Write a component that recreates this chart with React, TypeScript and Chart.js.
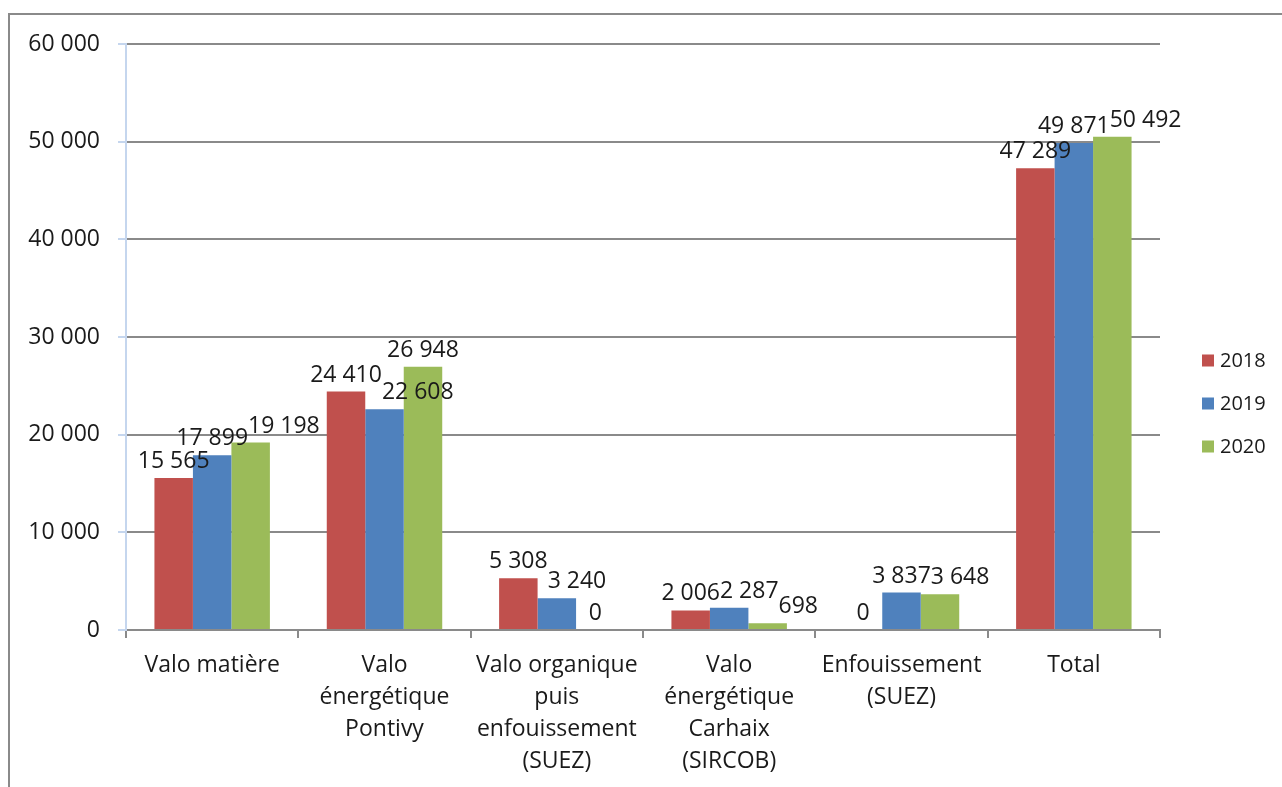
import React, { useEffect, useRef } from "react";
import { Chart, registerables } from "chart.js";

Chart.register(...registerables);

const categories: (string | string[])[] = [
  "Valo matière",
  ["Valo", "énergétique", "Pontivy"],
  ["Valo organique", "puis", "enfouissement", "(SUEZ)"],
  ["Valo", "énergétique", "Carhaix", "(SIRCOB)"],
  ["Enfouissement", "(SUEZ)"],
  "Total",
];
const seriesNames = ["2018", "2019", "2020"];
const values2018 = [15565, 24410, 5308, 2006, 0, 47289];
const values2019 = [17899, 22608, 3240, 2287, 3837, 49871];
const values2020 = [19198, 26948, 0, 698, 3648, 50492];
const seriesColors = ["#C0504D", "#4F81BD", "#9BBB59"];

const FONT = "'Open Sans', 'Noto Sans', sans-serif";

const fmt = (v: number) => String(Math.round(v)).replace(/\B(?=(\d{3})+(?!\d))/g, " ");

const framePlugin = {
  id: "frame",
  beforeDraw(chart: any) {
    const ctx = chart.ctx;
    ctx.save();
    ctx.fillStyle = "#ffffff";
    ctx.fillRect(0, 0, chart.width, chart.height);
    ctx.strokeStyle = "#8a8a8a";
    ctx.lineWidth = 2;
    ctx.strokeRect(9, 14, chart.width + 20, chart.height + 20);
    ctx.restore();
  },
};

const labelPlugin = {
  id: "barLabels",
  afterDatasetsDraw(chart: any) {
    const ctx = chart.ctx;
    ctx.save();
    ctx.font = `23px ${FONT}`;
    ctx.fillStyle = "#1a1a1a";
    ctx.textAlign = "center";
    ctx.textBaseline = "bottom";
    const nCat = chart.data.labels.length;
    const h = 25;
    for (let c = 0; c < nCat; c++) {
      let prev: { l: number; r: number; t: number; b: number } | null = null;
      chart.data.datasets.forEach((ds: any, di: number) => {
        const meta = chart.getDatasetMeta(di);
        const bar = meta.data[c];
        if (!bar) return;
        const text = fmt(ds.data[c]);
        const w = ctx.measureText(text).width;
        let cx = bar.x;
        const bottom = bar.y - 5;
        let box = { l: cx - w / 2, r: cx + w / 2, t: bottom - h, b: bottom };
        if (prev && box.l < prev.r && box.t < prev.b - 4 && box.b > prev.t + 4) {
          const shift = prev.r - box.l;
          cx += shift;
          box = { l: box.l + shift, r: box.r + shift, t: box.t, b: box.b };
        }
        ctx.fillText(text, cx, bottom);
        prev = box;
      });
    }
    ctx.restore();
  },
};

const legendPlugin = {
  id: "sideLegend",
  afterDraw(chart: any) {
    const ctx = chart.ctx;
    const area = chart.chartArea;
    ctx.save();
    ctx.font = `20px ${FONT}`;
    ctx.textAlign = "left";
    ctx.textBaseline = "middle";
    const centerY = chart.height / 2 + 10;
    const gap = 43;
    chart.data.datasets.forEach((ds: any, i: number) => {
      const y = centerY + (i - (chart.data.datasets.length - 1) / 2) * gap;
      const x = area.right + 42;
      ctx.fillStyle = ds.backgroundColor;
      ctx.fillRect(x, y - 6, 12, 12);
      ctx.fillStyle = "#1a1a1a";
      ctx.fillText(ds.label, x + 18, y + 1);
    });
    ctx.restore();
  },
};

export default function App() {
  const ref = useRef<HTMLCanvasElement | null>(null);
  useEffect(() => {
    if (!ref.current) return;
    const allValues = [values2018, values2019, values2020];
    const chart = new Chart(ref.current, {
      type: "bar",
      data: {
        labels: categories as any,
        datasets: seriesNames.map((name, i) => ({
          label: name,
          data: allValues[i],
          backgroundColor: seriesColors[i],
          borderWidth: 0,
          categoryPercentage: 0.67,
          barPercentage: 1.0,
        })),
      },
      options: {
        animation: false,
        responsive: false,
        devicePixelRatio: 1,
        layout: { padding: { left: 0, right: 122, top: 44, bottom: 0 } },
        plugins: {
          legend: { display: false },
          tooltip: { enabled: false },
          title: { display: false },
        },
        scales: {
          x: {
            offset: true,
            grid: {
              offset: true,
              drawOnChartArea: false,
              drawTicks: true,
              tickLength: 8,
              color: "#8a8a8a",
              lineWidth: 2,
            },
            border: { display: true, color: "#8a8a8a", width: 2 },
            ticks: {
              color: "#1a1a1a",
              padding: 11,
              maxRotation: 0,
              autoSkip: false,
              font: { family: FONT, size: 23, lineHeight: 1.4 },
            },
            afterFit(scale: any) {
              scale.height = 157;
            },
          },
          y: {
            min: 0,
            max: 60000,
            ticks: {
              stepSize: 10000,
              color: "#1a1a1a",
              padding: 18,
              font: { family: FONT, size: 23 },
              callback: (v: any) => fmt(Number(v)),
            },
            grid: {
              color: "#8a8a8a",
              lineWidth: 2,
              tickColor: "#c5d6ee",
              tickLength: 8,
            },
            border: { display: true, color: "#c5d6ee", width: 2 },
            afterFit(scale: any) {
              scale.width = 126;
            },
          },
        },
      },
      plugins: [framePlugin, labelPlugin, legendPlugin],
    });
    return () => chart.destroy();
  }, []);
  return (
    <div style={{ position: "absolute", left: 0, top: 0, width: 1282, height: 787, background: "#fff" }}>
      <canvas ref={ref} width={1282} height={787} style={{ display: "block", width: 1282, height: 787 }} />
    </div>
  );
}
